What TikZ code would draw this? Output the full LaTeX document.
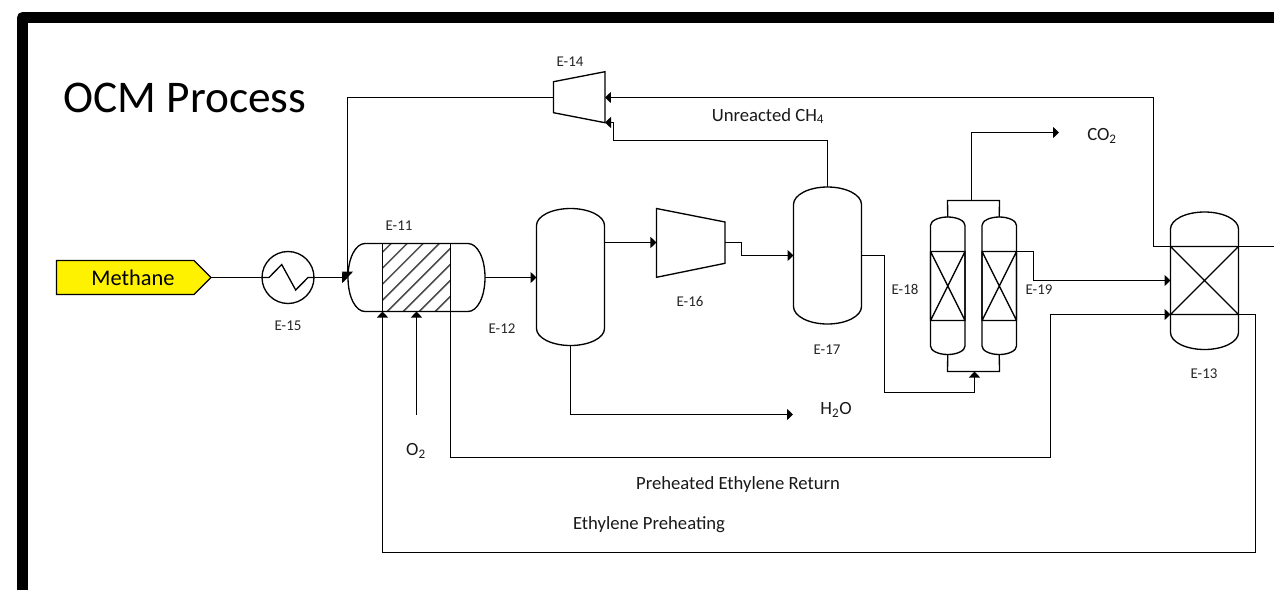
\documentclass[tikz,border=0pt]{standalone}
\usepackage{fontspec}
\setmainfont{Carlito}
\usetikzlibrary{arrows.meta}
\tikzset{
  unit/.style={x=0.75pt,y=-0.75pt},
  eq/.style={draw=black,line width=1pt,line join=miter},
  flow/.style={draw=black,line width=1pt,-{Triangle[length=4.5pt,width=8.25pt]}},
  pipe/.style={draw=black,line width=1pt},
  tag/.style={font=\fontsize{11.2}{13}\selectfont,inner sep=0pt,text=black!85},
  lab/.style={font=\fontsize{14}{16}\selectfont,inner sep=0pt,text=black!90},
  box/.style={inner sep=0pt,outer sep=0pt,draw=none},
}
% upright capsule: name, xl, ytop, xr, ybot, ry
\newcommand{\capsuleV}[6]{%
  \pgfmathsetmacro{\cxx}{(#2+#4)/2}\pgfmathsetmacro{\rxx}{(#4-#2)/2}
  \pgfmathsetmacro{\kx}{\rxx*0.5523}\pgfmathsetmacro{\ky}{#6*0.5523}
  \node[box,minimum width={(#4-#2)*0.75pt},minimum height={(#5-#3)*0.75pt}] (#1) at ({\cxx},{(#3+#5)/2}) {};
  \draw[eq] (#2,#3+#6) .. controls (#2,#3+#6-\ky) and (\cxx-\kx,#3) .. (\cxx,#3)
    .. controls (\cxx+\kx,#3) and (#4,#3+#6-\ky) .. (#4,#3+#6)
    -- (#4,#5-#6) .. controls (#4,#5-#6+\ky) and (\cxx+\kx,#5) .. (\cxx,#5)
    .. controls (\cxx-\kx,#5) and (#2,#5-#6+\ky) .. (#2,#5-#6) -- cycle;
}
\begin{document}
\begin{tikzpicture}[unit]
\useasboundingbox (0,0) rectangle (1274,590);
\fill[white] (0,0) rectangle (1274,590);
% frame
\draw[line width=8.25pt,line join=round] (22.5,590) -- (22.5,17.5) -- (1274,17.5);
\node[inner sep=0pt,font=\fontsize{34}{38}\selectfont] (title) at (185,98) {OCM Process};

% feed
\draw[eq,fill=yellow] (56.5,260.5) -- (194,260.5) -- (211,277.5) -- (194,294.5) -- (56.5,294.5) -- cycle;
\node[inner sep=0pt,font=\fontsize{16.8}{19}\selectfont] (methane) at (133,278) {Methane};
\coordinate (feedtip) at (211,277.5);

% E-15
\node[draw,circle,line width=1pt,minimum size=39pt,inner sep=0pt] (e15) at (288,277.5) {};
\draw[eq] (e15.west) -- (269,277.5) -- (281.7,264.5) -- (295.7,290) -- (308,277.5) -- (e15.east);

% E-11
\node[box,minimum width=102.75pt,minimum height=51pt] (e11) at (416.5,277.5) {};
\begin{scope}
  \clip (382.5,243.5) rectangle (450.5,311.5);
  \foreach \c in {634.7,650.7,...,770} {
    \draw[black!70,line width=1.1pt] (\c-243+20,223) -- (\c-311-20,331);
  }
\end{scope}
\draw[eq] (365,243.5) -- (468,243.5) .. controls (477.4,243.5) and (485,258) .. (485,277.5)
  .. controls (485,297) and (477.4,311.5) .. (468,311.5) -- (365,311.5)
  .. controls (355.6,311.5) and (348,297) .. (348,277.5)
  .. controls (348,258) and (355.6,243.5) .. (365,243.5) -- cycle;
\draw[eq] (382.5,243.5) -- (382.5,311.5);
\draw[eq] (450.5,243.5) -- (450.5,311.5);

% vessels
\capsuleV{e12}{536.5}{208.5}{604.5}{345.5}{17}
\capsuleV{e17}{793.5}{187}{861.5}{324}{17.5}
\capsuleV{e13}{1170.5}{212}{1238.5}{349.5}{17}
\capsuleV{e18}{930.5}{217}{965}{354.5}{8.5}
\capsuleV{e19}{982}{217}{1016.5}{354.5}{8.5}

% packed beds
\draw[eq] (930.5,251.5) rectangle (965,320.5) (930.5,251.5) -- (965,320.5) (965,251.5) -- (930.5,320.5);
\draw[eq] (982,251.5) rectangle (1016.5,320.5) (982,251.5) -- (1016.5,320.5) (1016.5,251.5) -- (982,320.5);
\draw[eq] (1170.5,246.5) -- (1238.5,246.5) (1170.5,314.5) -- (1238.5,314.5) (1170.5,246.5) -- (1238.5,314.5) (1238.5,246.5) -- (1170.5,314.5);

% compressors
\draw[eq] (553.5,81.7) -- (605,71.7) -- (605,122.7) -- (553.5,112.7) -- cycle;
\node[box,minimum width=38.6pt,minimum height=38.2pt] (e14) at (579.25,97.5) {};
\draw[eq] (656.5,208.5) -- (725,222) -- (725,263.3) -- (656.5,277.3) -- cycle;
\node[box,minimum width=51.4pt,minimum height=51.75pt] (e16) at (690.75,242.5) {};

% connector ends
\coordinate (h2o) at (793,414.5);
\coordinate (co2) at (1059,132.5);
\coordinate (o2) at (416.5,414.5);
\coordinate (rightedge) at (1274,246.5);

% connectors
\draw[pipe] (feedtip) -- (e15.west);
\draw[flow] (e15.east) -- (e11.west);
\draw[flow] (e14.west) -- (347.5,97.5) -- (347.5,277.5);
\draw[flow] (rightedge) -- (1153.5,246.5) -- (1153.5,97.5) -- (e14.east);
\draw[flow] (e17.north) -- (827.5,140.5) -- (613.5,140.5) -- (613.5,122.5) -- (605,122.5);
\draw[flow] (e11.east) -- (e12.west |- e11.east);
\draw[flow] (604.5,242.5) -- (e16.west);
\draw[flow] (e16.east) -- (741.5,242.5) -- (741.5,255.5) -- (793.5,255.5);
\draw[flow] (e12.south) -- (570.5,414.5) -- (h2o);
\draw[flow] (o2) -- (416.5,311.5);
\draw[flow] (861.5,255.5) -- (884.5,255.5) -- (884.5,392.5) -- (974.5,392.5) -- (974.5,371.5);
\draw[pipe] (e18.south) -- (947.5,371.5) -- (999.5,371.5) -- (e19.south);
\draw[pipe] (e18.north) -- (947.5,200.5) -- (999.5,200.5) -- (e19.north);
\draw[flow] (971.5,200.5) -- (971.5,132.5) -- (co2);
\draw[flow] (1016.5,251.5) -- (1033.5,251.5) -- (1033.5,280.5) -- (e13.west |- 0,280.5);
\draw[flow] (450.5,311.5) -- (450.5,457.5) -- (1050.5,457.5) -- (1050.5,314.5) -- (e13.west |- 0,314.5);
\draw[flow] (1238.5,314.5) -- (1255.5,314.5) -- (1255.5,552.5) -- (382.5,552.5) -- (382.5,311.5);

% labels
\node[tag] (t11) at (399,226) {E-11};
\node[tag] (t15) at (288,326) {E-15};
\node[tag] (t12) at (502,329) {E-12};
\node[tag] (t14) at (570,62) {E-14};
\node[tag] (t16) at (690,302) {E-16};
\node[tag] (t17) at (827,350) {E-17};
\node[tag] (t18) at (905,289) {E-18};
\node[tag] (t19) at (1039,290) {E-19};
\node[tag] (t13) at (1204,374) {E-13};
\node[lab] (tch4) at (768,116) {Unreacted CH\textsubscript{4}};
\node[lab] (tco2) at (1102,136) {CO\textsubscript{2}};
\node[lab] (th2o) at (836,410) {H\textsubscript{2}O};
\node[lab] (to2) at (416,451) {O\textsubscript{2}};
\node[lab] (tret) at (738,484.5) {Preheated Ethylene Return};
\node[lab] (tpre) at (649,524.5) {Ethylene Preheating};
\end{tikzpicture}
\end{document}
